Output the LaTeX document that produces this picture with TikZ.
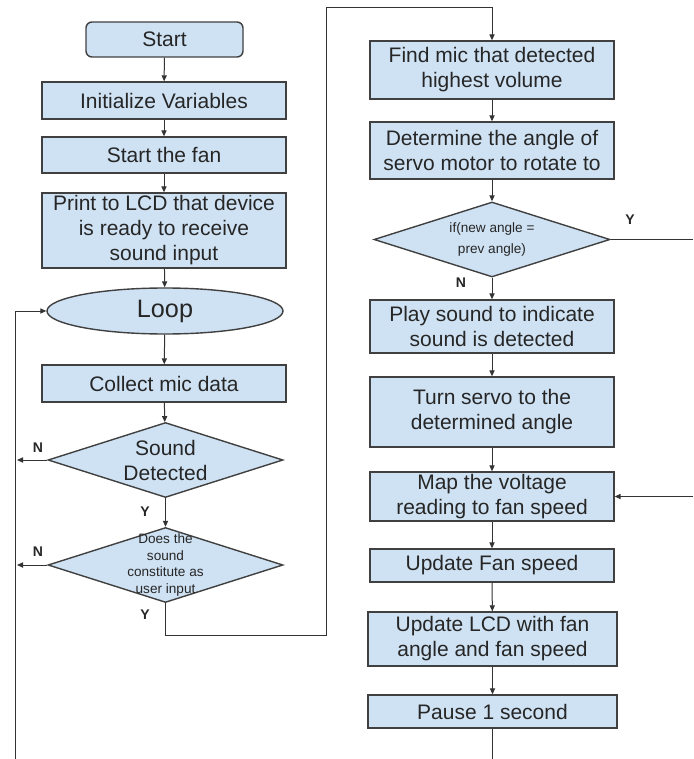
\documentclass[tikz,border=0pt]{standalone}
\usepackage{fontspec}
\setmainfont{Liberation Sans}
\usepackage{xcolor}
\usetikzlibrary{arrows.meta}
\usetikzlibrary{shapes.geometric}
\definecolor{boxblue}{HTML}{CFE2F3}

\begin{document}
\begin{tikzpicture}[x=0.5pt, y=-0.5pt,
		flowbox/.style={draw=black!75, fill=boxblue, line width=0.7pt, inner sep=0pt, minimum width=122pt, align=center, text=black!85, font=\fontsize{10.5}{12.5}\selectfont},
		decide/.style={diamond, draw=black!75, fill=boxblue, line width=0.7pt, inner sep=0pt, minimum width=117.5pt, minimum height=37.5pt},
		yn/.style={font=\fontsize{7}{8}\selectfont\bfseries, text=black!85},
		flow/.style={-{Triangle[length=3pt,width=2.6pt]}, line width=0.5pt, black!80},
		wire/.style={line width=0.5pt, black!80}]
	\useasboundingbox (0,0) rectangle (693,759);

	% left column
	\node[flowbox, rounded corners=3pt, minimum width=78.5pt, minimum height=17.5pt] (start) at (164.5,39.5) {Start};
	\node[flowbox, minimum height=18.5pt] (init) at (164,100.5) {Initialize Variables};
	\node[flowbox, minimum height=18pt] (fan) at (164,155) {Start the fan};
	\node[flowbox, minimum height=37.5pt] (ready) at (164,230.5) {Print to LCD that device\\is ready to receive\\sound input};
	\node[ellipse, draw=black!75, fill=boxblue, line width=0.7pt, inner sep=0pt, minimum width=118pt, minimum height=23pt, text=black!85, font=\fontsize{12.6}{14}\selectfont] (loop) at (165,311) {Loop};
	\node[flowbox, minimum height=18.5pt] (collect) at (164,383.5) {Collect mic data};
	\node[decide, label={[align=center, text=black!85, font=\fontsize{10.5}{12.5}\selectfont]center:{Sound\\Detected}}] (heard) at (165.5,460) {};
	\node[decide, label={[align=center, text=black!85, font=\fontsize{6.8}{8.3}\selectfont]center:{Does the\\sound\\constitute as\\user input}}] (isinput) at (165.5,565) {};

	% right column
	\node[flowbox, minimum height=29pt] (loudest) at (492,70) {Find mic that detected\\highest volume};
	\node[flowbox, minimum height=28.5pt] (angle) at (492,150.5) {Determine the angle of\\servo motor to rotate to};
	\node[decide, minimum width=118pt, label={[align=center, text=black!85, font=\fontsize{6.8}{10.8}\selectfont]center:{if(new angle =\\prev angle)}}] (same) at (492,239.5) {};
	\node[flowbox, minimum height=26.5pt] (chime) at (492,326.5) {Play sound to indicate\\sound is detected};
	\node[flowbox, minimum height=35pt] (turn) at (492,412) {Turn servo to the\\determined angle};
	\node[flowbox, minimum height=24.5pt] (map) at (492,496.5) {Map the voltage\\reading to fan speed};
	\node[flowbox, minimum height=16.5pt] (speed) at (492,565.5) {Update Fan speed};
	\node[flowbox, minimum width=124.5pt, minimum height=27pt] (lcd) at (492.5,639) {Update LCD with fan\\angle and fan speed};
	\node[flowbox, minimum width=124.5pt, minimum height=16.5pt] (pause) at (492.5,711.5) {Pause 1 second};

	% branch labels
	\node[yn] (noheard) at (38,448) {N};
	\node[yn] (yesheard) at (145,512) {Y};
	\node[yn] (noinput) at (38,552) {N};
	\node[yn] (yesinput) at (145,615) {Y};
	\node[yn] (yessame) at (630,220) {Y};
	\node[yn] (nosame) at (461,283) {N};

	% free ends
	\coordinate (exitA) at (17,460);
	\coordinate (exitB) at (17,565);
	\coordinate (back) at (15,759);
	\coordinate (jumpA) at (326,635);
	\coordinate (jumpB) at (326,8);
	\coordinate (sameout) at (693,239.5);
	\coordinate (mapin) at (693,496.5);
	\coordinate (pauseout) at (492.5,759);

	\draw[flow] (start) -- (init);
	\draw[flow] (init) -- (fan);
	\draw[flow] (fan) -- (ready);
	\draw[flow] (ready) -- (loop);
	\draw[flow] (loop) -- (collect);
	\draw[flow] (collect) -- (heard);
	\draw[flow] (heard.south) -- (isinput.north);
	\draw[flow] (heard.west) -- (exitA);
	\draw[flow] (isinput.west) -- (exitB);
	\draw[flow] (back) |- (loop.west);
	\draw[flow] (isinput.south) |- (jumpA) -- (jumpB) -| (loudest.north);

	\draw[flow] (loudest) -- (angle);
	\draw[flow] (angle) -- (same);
	\draw[flow] (same.south) -- (chime.north);
	\draw[wire] (same.east) -- (sameout);
	\draw[flow] (chime) -- (turn);
	\draw[flow] (turn) -- (map);
	\draw[flow] (mapin) -- (map.east);
	\draw[flow] (map) -- (speed);
	\draw[flow] (speed) -- (lcd);
	\draw[flow] (lcd) -- (pause);
	\draw[wire] (pause) -- (pauseout);
\end{tikzpicture}
\end{document}
